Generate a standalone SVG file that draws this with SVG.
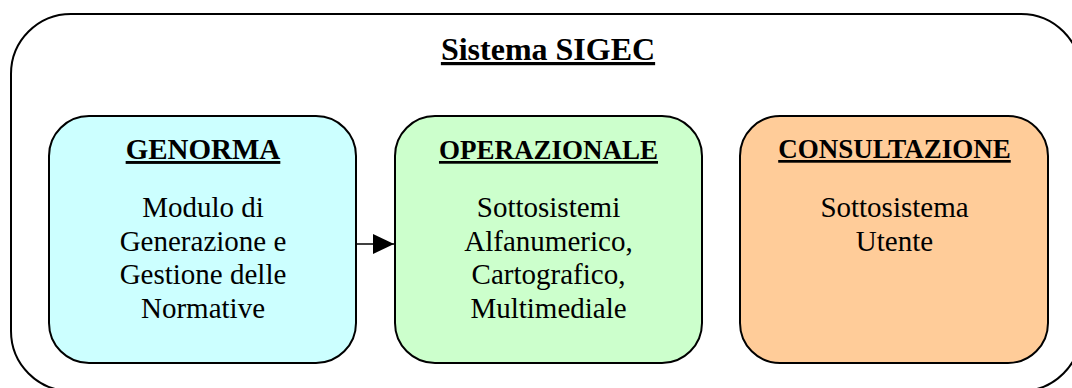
<svg xmlns="http://www.w3.org/2000/svg" width="1072" height="388" viewBox="0 0 1072 388">
<style>
.box{stroke:#000;stroke-width:2}
.title{font-family:"Liberation Serif","Times New Roman",serif;font-weight:bold;text-decoration:underline;text-anchor:middle;fill:#000}
.body{font-family:"Liberation Serif","Times New Roman",serif;font-size:29px;text-anchor:middle;fill:#000}
</style>
<defs>
<marker id="ah" markerUnits="userSpaceOnUse" markerWidth="22" markerHeight="20" refX="21" refY="10" orient="auto">
<path d="M0,0 L21,10 L0,20 z" fill="#000"/>
</marker>
</defs>
<rect width="1072" height="388" fill="#fff"/>
<g id="sistema">
<rect x="11" y="14" width="1070" height="377" rx="60" ry="60" fill="none" stroke="#000" stroke-width="2"/>
<text class="title" x="548" y="60" font-size="32">Sistema SIGEC</text>
</g>
<g id="genorma">
<rect class="box" x="49" y="116" width="307" height="247" rx="40" ry="40" fill="#CCFFFF"/>
<text class="title" x="203" y="159" font-size="29">GENORMA</text>
<text class="body" x="203" y="217">Modulo di</text>
<text class="body" x="203" y="250.5">Generazione e</text>
<text class="body" x="203" y="284">Gestione delle</text>
<text class="body" x="203" y="318">Normative</text>
</g>
<g id="operazionale">
<rect class="box" x="395" y="116" width="307" height="247" rx="40" ry="40" fill="#CCFFCC"/>
<text class="title" x="548.5" y="159" font-size="27">OPERAZIONALE</text>
<text class="body" x="548.5" y="217">Sottosistemi</text>
<text class="body" x="548.5" y="250.5">Alfanumerico,</text>
<text class="body" x="548.5" y="284">Cartografico,</text>
<text class="body" x="548.5" y="318">Multimediale</text>
</g>
<g id="consultazione">
<rect class="box" x="740" y="116" width="308" height="247" rx="40" ry="40" fill="#FFCC99"/>
<text class="title" x="894.5" y="158" font-size="27">CONSULTAZIONE</text>
<text class="body" x="894.5" y="217">Sottosistema</text>
<text class="body" x="894.5" y="250.5">Utente</text>
</g>
<g id="connectors">
<line x1="357" y1="244" x2="394" y2="244" stroke="#000" stroke-width="1.5" marker-end="url(#ah)"/>
</g>
</svg>
